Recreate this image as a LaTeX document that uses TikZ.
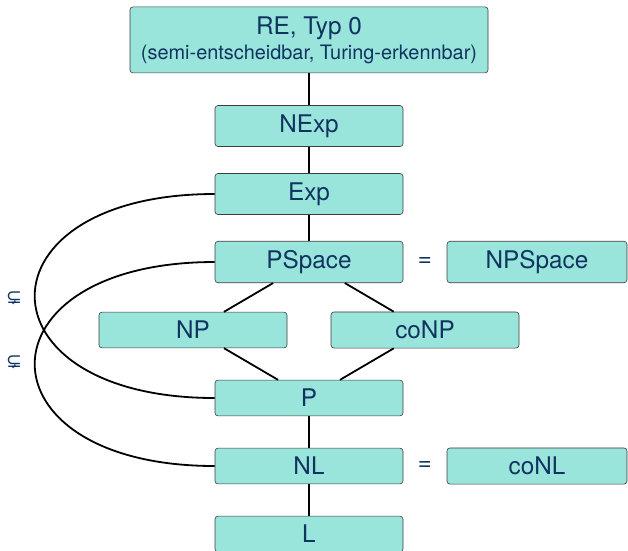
\documentclass[tikz,border=0pt]{standalone}
\usepackage{fontspec}
\setmainfont{TeX Gyre Heros}
\newfontfamily\symfont{DejaVu Sans}
\usepackage{tikz}
\usetikzlibrary{positioning}
\usepackage{xcolor}
\definecolor{boxfill}{RGB}{153,228,219}
\definecolor{boxtext}{RGB}{16,52,96}
\definecolor{boxline}{RGB}{60,60,60}

\begin{document}
\begin{tikzpicture}[x=1pt,y=-1pt,
	  every node/.style={align=center,text=boxtext},
	  every matrix/.style={ampersand replacement=\&,column sep={116pt,between origins},row sep={68pt,between origins}},
	  cls/.style={draw=boxline,line width=0.6pt,fill=boxfill,rounded corners=3pt,anchor=center,minimum width=188pt,inner ysep=9pt,font=\fontsize{24.3}{28}\selectfont},
	  side/.style={cls,minimum width=180pt,xshift=-4pt},
	  eq/.style={anchor=center,font=\fontsize{24}{28}\selectfont},
	  sub/.style={font=\symfont\fontsize{19}{22}\selectfont},
	  link/.style={draw=black,line width=1.8pt}]

	  \useasboundingbox (0,0) rectangle (628,550);

	  % Position the classes using a matrix layout
	  \matrix[matrix anchor=nexp.center] at (309,126) {
	     \& \node[cls] (nexp) {NExp}; \& \& \\
	     \& \node[cls] (exp) {Exp}; \& \& \\
	     \& \node[cls] (pspace) {PSpace}; \& \node[eq] (eqpspace) {=}; \& \node[side] (npspace) {NPSpace}; \\
	     \node[cls] (np) {NP}; \& \& \node[cls] (conp) {coNP}; \& \\
	     \& \node[cls] (p) {P}; \& \& \\
	     \& \node[cls] (nl) {NL}; \& \node[eq] (eqnl) {=}; \& \node[side] (conl) {coNL}; \\
	     \& \node[cls] (l) {L}; \& \& \\
	  };
	  \node[cls,minimum width=358pt,minimum height=66pt,above=32pt of nexp] (re) {RE, Typ 0\\[-3pt]{\fontsize{19.9}{22}\selectfont(semi-entscheidbar, Turing-erkennbar)}};

	  % inclusions
	  \draw[link] (re) -- (nexp) -- (exp) -- (pspace);
	  \draw[link] (pspace) -- (np) -- (p) -- (conp) -- (pspace);
	  \draw[link] (p) -- (nl) -- (l);
	  \draw[link] (exp.west) .. controls +(-240,0) and +(-240,0) .. (p.west);
	  \draw[link] (pspace.west) .. controls +(-240,0) and +(-240,0) .. (nl.west);

	  \node[sub] (strictexp) at (14,298) {⊊};
	  \node[sub] (strictpspace) at (14,362) {⊊};
\end{tikzpicture}
\end{document}
